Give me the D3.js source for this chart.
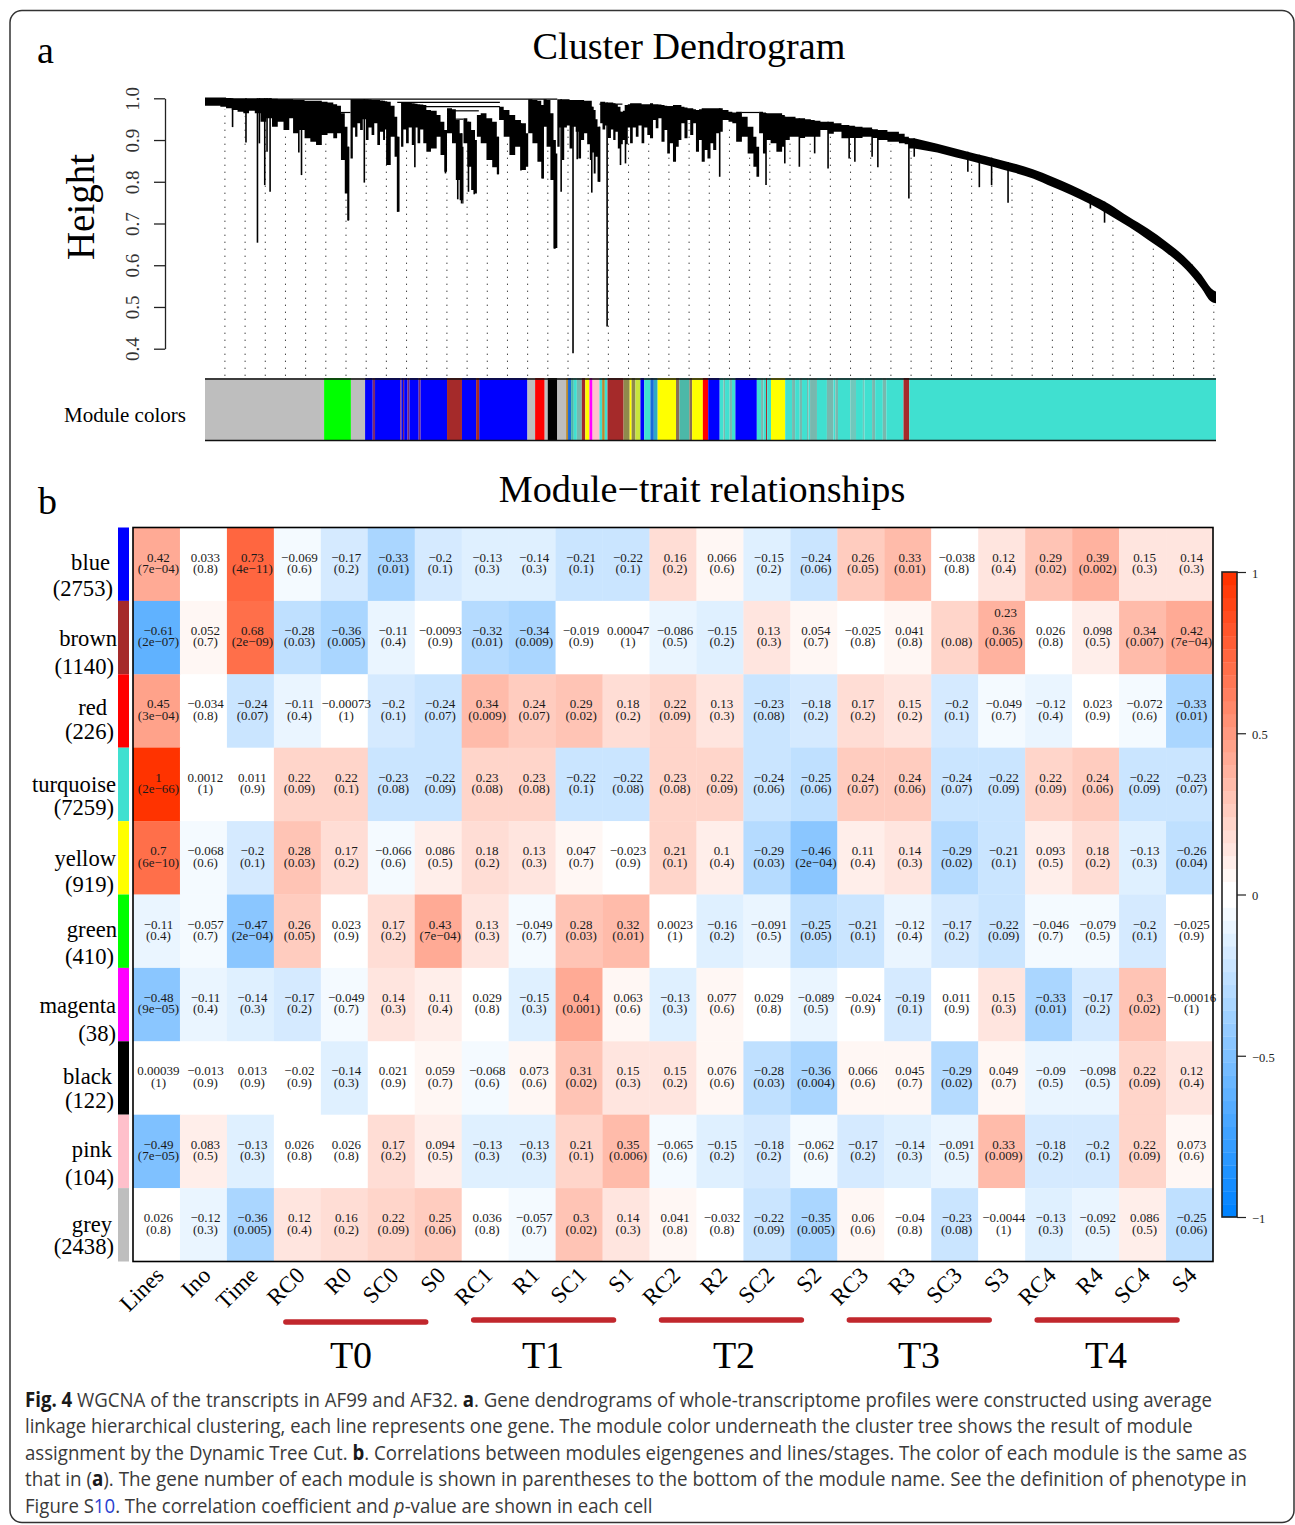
<!DOCTYPE html>
<html>
<head>
<meta charset="utf-8">
<script src="https://cdn.jsdelivr.net/npm/d3@7"></script>
<style>
  html, body { margin: 0; padding: 0; background: #fff; }
  svg { display: block; }
</style>
</head>
<body>
<div id="figure"></div>
<script>
// ----------- data -----------------------------------
const traits = ["Lines","Ino","Time","RC0","R0","SC0","S0","RC1","R1","SC1","S1","RC2","R2","SC2","S2","RC3","R3","SC3","S3","RC4","R4","SC4","S4"];
const modules = ["blue","brown","red","turquoise","yellow","green","magenta","black","pink","grey"];
const moduleSizes = [2753,1140,226,7259,919,410,38,122,104,2438];
const timeGroups = ["T0","T1","T2","T3","T4"];
const groupFirstTrait = [3,7,11,15,19];

const corrRows = [
  [0.42,0.033,0.73,-0.069,-0.17,-0.33,-0.2,-0.13,-0.14,-0.21,-0.22,0.16,0.066,-0.15,-0.24,0.26,0.33,-0.038,0.12,0.29,0.39,0.15,0.14],
  [-0.61,0.052,0.68,-0.28,-0.36,-0.11,-0.0093,-0.32,-0.34,-0.019,0.00047,-0.086,-0.15,0.13,0.054,-0.025,0.041,0.23,0.36,0.026,0.098,0.34,0.42],
  [0.45,-0.034,-0.24,-0.11,-0.00073,-0.2,-0.24,0.34,0.24,0.29,0.18,0.22,0.13,-0.23,-0.18,0.17,0.15,-0.2,-0.049,-0.12,0.023,-0.072,-0.33],
  [1,0.0012,0.011,0.22,0.22,-0.23,-0.22,0.23,0.23,-0.22,-0.22,0.23,0.22,-0.24,-0.25,0.24,0.24,-0.24,-0.22,0.22,0.24,-0.22,-0.23],
  [0.7,-0.068,-0.2,0.28,0.17,-0.066,0.086,0.18,0.13,0.047,-0.023,0.21,0.1,-0.29,-0.46,0.11,0.14,-0.29,-0.21,0.093,0.18,-0.13,-0.26],
  [-0.11,-0.057,-0.47,0.26,0.023,0.17,0.43,0.13,-0.049,0.28,0.32,0.0023,-0.16,-0.091,-0.25,-0.21,-0.12,-0.17,-0.22,-0.046,-0.079,-0.2,-0.025],
  [-0.48,-0.11,-0.14,-0.17,-0.049,0.14,0.11,0.029,-0.15,0.4,0.063,-0.13,0.077,0.029,-0.089,-0.024,-0.19,0.011,0.15,-0.33,-0.17,0.3,-0.00016],
  [0.00039,-0.013,0.013,-0.02,-0.14,0.021,0.059,-0.068,0.073,0.31,0.15,0.15,0.076,-0.28,-0.36,0.066,0.045,-0.29,0.049,-0.09,-0.098,0.22,0.12],
  [-0.49,0.083,-0.13,0.026,0.026,0.17,0.094,-0.13,-0.13,0.21,0.35,-0.065,-0.15,-0.18,-0.062,-0.17,-0.14,-0.091,0.33,-0.18,-0.2,0.22,0.073],
  [0.026,-0.12,-0.36,0.12,0.16,0.22,0.25,0.036,-0.057,0.3,0.14,0.041,-0.032,-0.22,-0.35,0.06,-0.04,-0.23,-0.0044,-0.13,-0.092,0.086,-0.25]
];
const pvalRows = [
  ["7e-04","0.8","4e-11","0.6","0.2","0.01","0.1","0.3","0.3","0.1","0.1","0.2","0.6","0.2","0.06","0.05","0.01","0.8","0.4","0.02","0.002","0.3","0.3"],
  ["2e-07","0.7","2e-09","0.03","0.005","0.4","0.9","0.01","0.009","0.9","1","0.5","0.2","0.3","0.7","0.8","0.8","0.08","0.005","0.8","0.5","0.007","7e-04"],
  ["3e-04","0.8","0.07","0.4","1","0.1","0.07","0.009","0.07","0.02","0.2","0.09","0.3","0.08","0.2","0.2","0.2","0.1","0.7","0.4","0.9","0.6","0.01"],
  ["2e-66","1","0.9","0.09","0.1","0.08","0.09","0.08","0.08","0.1","0.08","0.08","0.09","0.06","0.06","0.07","0.06","0.07","0.09","0.09","0.06","0.09","0.07"],
  ["6e-10","0.6","0.1","0.03","0.2","0.6","0.5","0.2","0.3","0.7","0.9","0.1","0.4","0.03","2e-04","0.4","0.3","0.02","0.1","0.5","0.2","0.3","0.04"],
  ["0.4","0.7","2e-04","0.05","0.9","0.2","7e-04","0.3","0.7","0.03","0.01","1","0.2","0.5","0.05","0.1","0.4","0.2","0.09","0.7","0.5","0.1","0.9"],
  ["9e-05","0.4","0.3","0.2","0.7","0.3","0.4","0.8","0.3","0.001","0.6","0.3","0.6","0.8","0.5","0.9","0.1","0.9","0.3","0.01","0.2","0.02","1"],
  ["1","0.9","0.9","0.9","0.3","0.9","0.7","0.6","0.6","0.02","0.3","0.2","0.6","0.03","0.004","0.6","0.7","0.02","0.7","0.5","0.5","0.09","0.4"],
  ["7e-05","0.5","0.3","0.8","0.8","0.2","0.5","0.3","0.3","0.1","0.006","0.6","0.2","0.2","0.6","0.2","0.3","0.5","0.009","0.2","0.1","0.09","0.6"],
  ["0.8","0.3","0.005","0.4","0.2","0.09","0.06","0.8","0.7","0.02","0.3","0.8","0.8","0.09","0.005","0.6","0.8","0.08","1","0.3","0.5","0.5","0.06"]
];

// dendrogram mass: leaf order position, height of the merge above, height of the leaves below
const leafPos = [0,20,40,55,70,85,100,115,130,145,160,175,190,205,220,230,245,260,275,290,305,320,335,345,355,365,372,377,
  380,386,392,398,405,412,420,427,435,442,450,457,465,470,475,
  485,495,502,508,
  512,518,525,532,540,547,555,562,570,
  578,590,605,615,625,632,645,655,665,672,675,685,695,705,710,720,735,750,762,768,780,795,810,825,838,844,855,868,878,884,892,902,910,916,
  920,926,932,938,945,952,960,968,975,982,990,998,1005,1010,1015,1020,1025,
  1032,1038,1045,1052,1060,1066,1072,1078,1085,1091,1098,1104,1110,1117,1125,1132,1140,1147,1155,
  1162,1170,1177,1184,1192,1200,1207,1214,1222,1230,1237,1244,1252,1260,1267,1275,1282,1290,1297,1305,1312,1320,1327,1335,1344,1352,
  1367,1377,1387,1402,1417,1432,1440,1447,1457,1465,1477,1492,1507,1514,1527,1542,1552,1567,1582,1592,1607,1627,1642,1662,1682,1697,1717,1742,1757,1782,1812,1827,1838,1852];
const mergeTop = [1.002,1.002,1.002,1.001,1,1,1,1,1,1,1,0.999,0.998,0.998,0.998,0.996,0.996,0.994,0.994,0.994,0.992,0.99,0.986,0.982,0.964,0.932,0.884,0.996,
  0.998,0.998,0.998,0.998,0.998,0.998,0.998,0.997,0.996,0.996,0.996,0.995,0.994,0.993,0.992,
  0.982,0.956,0.908,0.994,
  0.99,0.99,0.99,0.989,0.988,0.987,0.986,0.985,0.984,
  0.972,0.97,0.96,0.944,0.924,0.976,0.974,0.948,0.916,0.884,0.952,0.944,0.924,0.9,0.96,0.964,0.952,0.944,0.908,0.98,0.972,0.96,0.948,0.94,0.916,0.998,0.996,0.994,0.984,0.998,0.996,0.964,0.9,0.868,
  0.998,0.998,0.998,0.998,0.998,0.996,0.996,0.996,0.996,0.996,0.994,0.994,0.994,0.98,0.972,0.95,0.932,
  0.992,0.992,0.99,0.99,0.99,0.988,0.986,0.98,0.968,0.97,0.984,0.986,0.988,0.988,0.988,0.988,0.986,0.986,0.986,
  0.988,0.986,0.986,0.985,0.984,0.982,0.98,0.98,0.984,0.984,0.984,0.98,0.978,0.976,0.976,0.974,0.972,0.974,0.976,0.976,0.976,0.976,0.976,0.976,0.976,0.972,
  0.968,0.966,0.968,0.956,0.932,0.908,0.884,0.968,0.966,0.964,0.964,0.964,0.96,0.956,0.956,0.952,0.952,0.95,0.948,0.946,0.944,0.944,0.94,0.936,0.934,0.932,0.93,0.926,0.924,0.92,0.915,0.908,0.904,0.904];
const leafBottom = [0.982,0.982,0.98,0.976,0.972,0.968,0.964,0.97,0.964,0.944,0.952,0.932,0.944,0.924,0.952,0.916,0.924,0.904,0.896,0.888,0.912,0.916,0.904,0.916,0.852,0.772,0.708,0.996,
  0.856,0.93,0.908,0.94,0.924,0.95,0.9,0.93,0.912,0.94,0.888,0.92,0.9,0.925,0.84,
  0.908,0.86,0.728,0.994,
  0.884,0.925,0.892,0.93,0.888,0.93,0.892,0.925,0.892,
  0.872,0.88,0.908,0.864,0.824,0.916,0.892,0.804,0.756,0.748,0.892,0.836,0.78,0.772,0.908,0.892,0.852,0.835,0.818,0.948,0.908,0.864,0.884,0.828,0.836,0.916,0.892,0.848,0.808,0.932,0.884,0.804,0.64,0.641,
  0.884,0.93,0.852,0.93,0.935,0.88,0.932,0.92,0.856,0.9,0.916,0.89,0.852,0.87,0.82,0.86,0.8,
  0.94,0.925,0.935,0.905,0.925,0.9,0.92,0.88,0.89,0.9,0.89,0.93,0.892,0.93,0.908,0.935,0.892,0.93,0.912,
  0.904,0.948,0.928,0.952,0.896,0.924,0.868,0.892,0.848,0.884,0.9,0.94,0.904,0.948,0.912,0.94,0.872,0.9,0.848,0.876,0.856,0.892,0.876,0.916,0.92,0.948,
  0.944,0.94,0.896,0.908,0.868,0.836,0.812,0.916,0.868,0.9,0.892,0.872,0.884,0.9,0.908,0.908,0.905,0.908,0.908,0.908,0.924,0.915,0.92,0.904,0.905,0.905,0.908,0.905,0.9,0.896,0.892,0.89,0.88,0.88];

// long thin branches hanging off the mass
const spikePos = [72,107,137,142,156,162,170,245,252,374,416,475,503,548,628,660,670,688,703,765,825,883,913,930,961,972,1010,1030,1050,1085,1098,1344,1465,1514,1552,1592,1627,1682,1697,1742,1757,1838,1852,1992,2022,2054,2097,2312,2349,2577];
const spikeHeight = [0.931,0.894,0.654,0.892,0.792,0.872,0.776,0.87,0.816,0.707,0.798,0.84,0.728,0.835,0.82,0.758,0.748,0.776,0.77,0.818,0.827,0.808,0.64,0.776,0.389,0.854,0.774,0.8,0.453,0.84,0.844,0.812,0.792,0.844,0.836,0.868,0.832,0.856,0.848,0.86,0.835,0.76,0.86,0.824,0.787,0.792,0.75,0.736,0.702,0.581];

// last merges across the top of the tree
const mergeLineFrom = [140,355,502,570,640,645,1030,1192,1402];
const mergeLineTo = [920,380,770,770,715,675,1090,1224,1447];
const mergeLineHeight = [0.998,0.966,0.99,0.98,0.97,0.95,0.986,0.98,0.966];

// right hand tail of singletons
const tailPos = [1852,1912,1962,2012,2062,2112,2162,2212,2262,2312,2362,2412,2462,2512,2562,2602,2627,2640];
const tailTop = [0.904,0.891,0.879,0.867,0.856,0.844,0.83,0.812,0.792,0.77,0.746,0.716,0.688,0.655,0.617,0.577,0.545,0.537];
const tailBottom = [0.88,0.87,0.858,0.847,0.835,0.822,0.808,0.788,0.768,0.746,0.72,0.692,0.661,0.629,0.589,0.545,0.513,0.509];

// module colour strip, each entry starts at that leaf position
const stripStart = [0,311,381,418,438,444,510,513,517,520,529,534,558,563,632,671,708,716,842,862,887,895,920,943,948,956,963,971,984,993,1004,1012,1030,1037,1044,1051,1093,1109,1114,1124,1137,1147,1163,1172,1182,1230,1239,1265,1272,1300,1314,1344,1354,1358,1370,1376,1385,1441,1452,1458,1465,1468,1478,1515,1533,1541,1553,1559,1572,1576,1580,1598,1624,1641,1646,1653,1685,1700,1718,1722,1742,1750,1770,1779,1824,1839];
const stripColor = ["grey","green","grey","blue","darkred","blue","darkred","blue","darkred","blue","darkred","blue","darkred","blue","brown","blue","brown","blue","grey","red","grey","black","grey","peru","midblue","teal","turquoise","greyteal","brown","yellow","magenta","pink","turquoise","peru","turquoise","brown","olive","yellow","olive","lime","blue","turquoise","midblue","skyteal","yellow","umber","teal","umber","yellow","red","blue","turquoise","greyteal","turquoise","greyteal","turquoise","blue","turquoise","greyteal","turquoise","brown","turquoise","yellow","turquoise","greyteal","turquoise","greyteal","turquoise","greyteal","turquoise","greyteal","turquoise","greyteal","turquoise","greyteal","turquoise","paleteal","turquoise","paleteal","turquoise","greyteal","turquoise","greyteal","turquoise","brown","turquoise"];

const legendTicks = [-1,-0.5,0,0.5,1];
const heightTicks = [0.4,0.5,0.6,0.7,0.8,0.9,1.0];

const captionLines = [
  [["Fig. 4","b"],[" WGCNA of the transcripts in AF99 and AF32. "],["a","b"],[". Gene dendrograms of whole-transcriptome profiles were constructed using average"]],
  [["linkage hierarchical clustering, each line represents one gene. The module color underneath the cluster tree shows the result of module"]],
  [["assignment by the Dynamic Tree Cut. "],["b","b"],[". Correlations between modules eigengenes and lines/stages. The color of each module is the same as"]],
  [["that in ("],["a","b"],["). The gene number of each module is shown in parentheses to the bottom of the module name. See the definition of phenotype in"]],
  [["Figure S"],["10","l"],[". The correlation coefficient and "],["p","i"],["-value are shown in each cell"]]
];

// ----------- layout and styling ---------------
const width = 1295, height = 1525;
const serif = "'Liberation Serif', serif";
const paletteStrip = {
  grey:"#bebebe", green:"#00ff00", blue:"#0000ff", brown:"#a52a2a", red:"#ff0000", black:"#000000",
  turquoise:"#40e0d0", magenta:"#ff00ff", pink:"#ffc0cb", yellow:"#ffff00",
  darkred:"#7d2a70", peru:"#b88a30", midblue:"#1a6ad8", teal:"#4cb8a8", greyteal:"#78b8ae",
  paleteal:"#70c8bc", olive:"#8f8a4c", lime:"#c8e63c", skyteal:"#30a8c4", umber:"#8a6f52"
};
const captionEnd = [1213,1194,1248,1248,653];
const captionBase = [1407,1433,1460,1486,1513];
const labelNudge = [[-1,25],[1,29],[-3.5,20.5],[1,24],[1,27],[-1,26],[1,29],[-0.6,23.4],[-1,27],[0,22]];
const nameRight = [110,117,107,116,116,117,116,112,112,112];
const countRight = [113,114,114,114,114,114,116,114,114,114];
const groupLabelX = [351,543,734,919,1106];

var svg = d3.select("#figure").append("svg")
    .attr("width", width)
    .attr("height", height)
    .style("font-family", serif);

svg.append("rect")
    .attr("x", 10).attr("y", 10.5)
    .attr("width", 1284).attr("height", 1512)
    .attr("rx", 12)
    .attr("fill", "#fff")
    .attr("stroke", "#333")
    .attr("stroke-width", 1.5);

// ------------- panel a, the dendrogram -----------------
var xLeaf = d3.scaleLinear().domain([0, 2640]).range([205, 1216]);
var yHeight = d3.scaleLinear().domain([1, 0.4]).range([98.3, 348.7]);

var tailTopAt = d3.scaleLinear().domain(tailPos).range(tailTop);
var tailBottomAt = d3.scaleLinear().domain(tailPos).range(tailBottom);
function massIndex(u){ return Math.max(0, d3.bisectRight(leafPos, u) - 1); }
function topAt(u){ return u < 1852 ? mergeTop[massIndex(u)] : tailTopAt(u); }
function bottomAt(u){ return u < 1852 ? leafBottom[massIndex(u)] : tailBottomAt(u); }

var gDendro = svg.append("g");

// the dotted leaf guides
var guidePos = d3.range(50).map(function(i){ return 52 + i * 52.7; });
gDendro.selectAll("line.guide")
    .data(guidePos)
    .enter()
  .append("line")
    .attr("class", "guide")
    .attr("x1", function(d){ return xLeaf(d); })
    .attr("x2", function(d){ return xLeaf(d); })
    .attr("y1", 376)
    .attr("y2", function(d){ return yHeight(bottomAt(d)) + 3; })
    .attr("stroke", "#444")
    .attr("stroke-width", 1)
    .attr("stroke-dasharray", "1.4 5.6");

var massArea = d3.area()
    .x(function(i){ return xLeaf(leafPos[i]); })
    .y0(function(i){ return yHeight(leafBottom[i]); })
    .y1(function(i){ return yHeight(mergeTop[i]); })
    .curve(d3.curveStepAfter);
gDendro.append("path")
    .attr("d", massArea(d3.range(leafPos.length)))
    .attr("fill", "#000");

var tailArea = d3.area()
    .x(function(i){ return xLeaf(tailPos[i]); })
    .y0(function(i){ return yHeight(tailBottom[i]); })
    .y1(function(i){ return yHeight(tailTop[i]); })
    .curve(d3.curveMonotoneX);
gDendro.append("path")
    .attr("d", tailArea(d3.range(tailPos.length)))
    .attr("fill", "#000");

gDendro.selectAll("line.spike")
    .data(spikePos)
    .enter()
  .append("line")
    .attr("class", "spike")
    .attr("x1", function(d){ return xLeaf(d); })
    .attr("x2", function(d){ return xLeaf(d); })
    .attr("y1", function(d){ return yHeight(topAt(d)); })
    .attr("y2", function(d,i){ return yHeight(spikeHeight[i]); })
    .attr("stroke", "#000")
    .attr("stroke-width", 1.6);

gDendro.selectAll("line.merge")
    .data(mergeLineHeight)
    .enter()
  .append("line")
    .attr("class", "merge")
    .attr("x1", function(d,i){ return xLeaf(mergeLineFrom[i]); })
    .attr("x2", function(d,i){ return xLeaf(mergeLineTo[i]); })
    .attr("y1", function(d){ return yHeight(d); })
    .attr("y2", function(d){ return yHeight(d); })
    .attr("stroke", "#000")
    .attr("stroke-width", 1.2);

var axisHeight = d3.axisLeft(yHeight)
    .tickValues(heightTicks)
    .tickFormat(d3.format(".1f"))
    .tickSize(11)
    .tickSizeOuter(0);
var gAxisHeight = svg.append("g")
    .attr("transform", "translate(165 0)")
    .call(axisHeight);
gAxisHeight.select(".domain").attr("stroke", "#222").attr("stroke-width", 1.3);
gAxisHeight.selectAll(".tick line").attr("stroke", "#222").attr("stroke-width", 1.3);
gAxisHeight.selectAll(".tick text")
    .attr("x", 0).attr("y", 0).attr("dy", 0)
    .attr("transform", "translate(-26 0) rotate(-90)")
    .attr("text-anchor", "middle")
    .attr("font-family", serif)
    .attr("font-size", 19)
    .attr("fill", "#333");

svg.append("text")
    .text("Height")
    .attr("transform", "translate(94 207) rotate(-90)")
    .attr("text-anchor", "middle")
    .attr("font-size", 39)
    .attr("fill", "#000");

svg.append("text").text("a").attr("x", 37).attr("y", 63).attr("font-size", 38);
svg.append("text").text("b").attr("x", 38).attr("y", 514).attr("font-size", 38);

svg.append("text")
    .text("Cluster Dendrogram")
    .attr("x", 689).attr("y", 59)
    .attr("text-anchor", "middle")
    .attr("font-size", 38.2);

svg.append("text")
    .text("Module colors")
    .attr("x", 64).attr("y", 422)
    .attr("font-size", 21);

// module colour strip
svg.append("g").selectAll("rect")
    .data(stripStart)
    .enter()
  .append("rect")
    .attr("x", function(d){ return xLeaf(d); })
    .attr("y", 378)
    .attr("width", function(d,i){
      var next = i + 1 < stripStart.length ? stripStart[i+1] : 2640;
      return xLeaf(next) - xLeaf(d);
    })
    .attr("height", 63)
    .attr("fill", function(d,i){ return paletteStrip[stripColor[i]]; });

[379, 440.5].forEach(function(y){
  svg.append("line")
      .attr("x1", 205).attr("x2", 1216)
      .attr("y1", y).attr("y2", y)
      .attr("stroke", "#111")
      .attr("stroke-width", 1.6);
});

// ------------- panel b, module trait heatmap -----------------
var xTrait = d3.scaleBand().domain(d3.range(traits.length)).range([133, 1213]);
var yModule = d3.scaleBand().domain(d3.range(modules.length)).range([527.5, 1261.5]);

// blueWhiteRed(50): fifty flat steps, no tint at all just either side of zero
var colorRamp = d3.scaleLinear()
    .domain([-1, 0, 1])
    .range(["#0083ff", "#ffffff", "#ff3300"]);
var stepColors = d3.range(50).map(function(i){
  var lower = -1 + i * 0.04;
  return colorRamp(i < 25 ? (lower + 0.04) / 0.96 : lower / 0.96);
});
var corrColor = d3.scaleQuantize().domain([-1, 1]).range(stepColors);

svg.append("text")
    .text("Module\u2212trait relationships")
    .attr("x", 702).attr("y", 502)
    .attr("text-anchor", "middle")
    .attr("font-size", 38.2);

var rowGroups = svg.append("g").selectAll("g")
    .data(corrRows)
    .enter()
  .append("g")
    .attr("transform", function(d,i){ return "translate(0 " + yModule(i) + ")"; });

rowGroups.selectAll("rect")
    .data(function(d){ return d; })
    .enter()
  .append("rect")
    .attr("x", function(d,j){ return xTrait(j); })
    .attr("y", 0)
    .attr("width", xTrait.bandwidth() + 0.3)
    .attr("height", yModule.bandwidth() + 0.3)
    .attr("fill", function(d){ return corrColor(d); });

// module side strip
svg.append("g").selectAll("rect")
    .data(modules)
    .enter()
  .append("rect")
    .attr("x", 118)
    .attr("y", function(d,i){ return yModule(i); })
    .attr("width", 11)
    .attr("height", yModule.bandwidth())
    .attr("fill", function(d){ return paletteStrip[d]; });

function minusSign(s){ return String(s).replace("-", "\u2212"); }

corrRows.forEach(function(row, r){
  var yMid = yModule(r) + yModule.bandwidth() / 2;
  row.forEach(function(v, c){
    var xMid = xTrait(c) + xTrait.bandwidth() / 2 + 2;
    // the printed figure has this one value knocked out of its cell
    var stray = r === 1 && c === 17;
    svg.append("text")
        .text(minusSign(v))
        .attr("x", stray ? xMid + 49 : xMid)
        .attr("y", stray ? yMid - 21 : yMid - 2.6)
        .attr("text-anchor", "middle")
        .attr("font-size", 13)
        .attr("fill", "#1a1a1a");
    svg.append("text")
        .text("(" + minusSign(pvalRows[r][c]) + ")")
        .attr("x", xMid)
        .attr("y", yMid + 8.7)
        .attr("text-anchor", "middle")
        .attr("font-size", 13)
        .attr("fill", "#1a1a1a");
  });
});

svg.append("rect")
    .attr("x", 133).attr("y", 527.5)
    .attr("width", 1080).attr("height", 734)
    .attr("fill", "none")
    .attr("stroke", "#000")
    .attr("stroke-width", 1.6);

// row labels
modules.forEach(function(name, r){
  var yMid = yModule(r) + yModule.bandwidth() / 2;
  svg.append("text")
      .text(name)
      .attr("x", nameRight[r]).attr("y", yMid + labelNudge[r][0] + 7)
      .attr("text-anchor", "end")
      .attr("font-size", 22.6);
  svg.append("text")
      .text("(" + moduleSizes[r] + ")")
      .attr("x", countRight[r]).attr("y", yMid + labelNudge[r][1] + 7)
      .attr("text-anchor", "end")
      .attr("font-size", 22.6);
});

// column labels
svg.append("g").selectAll("text")
    .data(traits)
    .enter()
  .append("text")
    .text(function(d){ return d; })
    .attr("transform", function(d,i){
      return "translate(" + (xTrait(i) + xTrait.bandwidth() / 2 + 3) + " 1271) rotate(-45)";
    })
    .attr("text-anchor", "end")
    .attr("dy", "0.35em")
    .attr("font-size", 23);

// time point bars
var gGroups = svg.append("g");
timeGroups.forEach(function(name, g){
  var first = xTrait(groupFirstTrait[g]);
  gGroups.append("line")
      .attr("x1", first + 12).attr("x2", first + xTrait.bandwidth() * 4 - 36)
      .attr("y1", g === 0 ? 1322 : 1320).attr("y2", g === 0 ? 1322 : 1320)
      .attr("stroke", "#c1272d")
      .attr("stroke-width", 5.5)
      .attr("stroke-linecap", "round");
  gGroups.append("text")
      .text(name)
      .attr("x", groupLabelX[g]).attr("y", 1368)
      .attr("text-anchor", "middle")
      .attr("font-size", 38);
});

// ------------- colour key -----------------
var yLegend = d3.scaleLinear().domain([-1, 1]).range([1217, 572]);
svg.append("g").selectAll("rect")
    .data(stepColors)
    .enter()
  .append("rect")
    .attr("x", 1222)
    .attr("y", function(d,i){ return yLegend(-1 + (i + 1) * 0.04); })
    .attr("width", 15)
    .attr("height", yLegend(0) - yLegend(0.04) + 0.3)
    .attr("fill", function(d){ return d; });

svg.append("rect")
    .attr("x", 1222).attr("y", 572)
    .attr("width", 15).attr("height", 645)
    .attr("fill", "none")
    .attr("stroke", "#222")
    .attr("stroke-width", 1.6);

var axisLegend = d3.axisRight(yLegend)
    .tickValues(legendTicks)
    .tickFormat(function(d){ return minusSign(d); })
    .tickSize(9)
    .tickPadding(6)
    .tickSizeOuter(0);
var gAxisLegend = svg.append("g")
    .attr("transform", "translate(1237 0)")
    .call(axisLegend);
gAxisLegend.select(".domain").remove();
gAxisLegend.selectAll(".tick line").attr("stroke", "#222").attr("stroke-width", 1.2);
gAxisLegend.selectAll(".tick text")
    .attr("font-family", serif)
    .attr("font-size", 12.5)
    .attr("dy", "0.42em")
    .attr("fill", "#222");

// ------------- caption -----------------
captionLines.forEach(function(parts, i){
  var line = svg.append("text")
      .attr("x", 0).attr("y", 0)
      .style("font-family", "'Open Sans', sans-serif")
      .attr("font-size", 20.5)
      .attr("fill", "#3a3a3a");
  parts.forEach(function(p){
    var span = line.append("tspan").text(p[0]);
    if (p[1] === "b") { span.attr("font-weight", 700).attr("fill", "#1a1a1a"); }
    if (p[1] === "i") { span.attr("font-style", "italic"); }
    if (p[1] === "l") { span.attr("fill", "#2a3fd0"); }
  });
  var fit = (captionEnd[i] - 25) / line.node().getComputedTextLength();
  line.attr("transform", "translate(25 " + captionBase[i] + ") scale(" + fit + " 1)");
});
</script>
</body>
</html>
